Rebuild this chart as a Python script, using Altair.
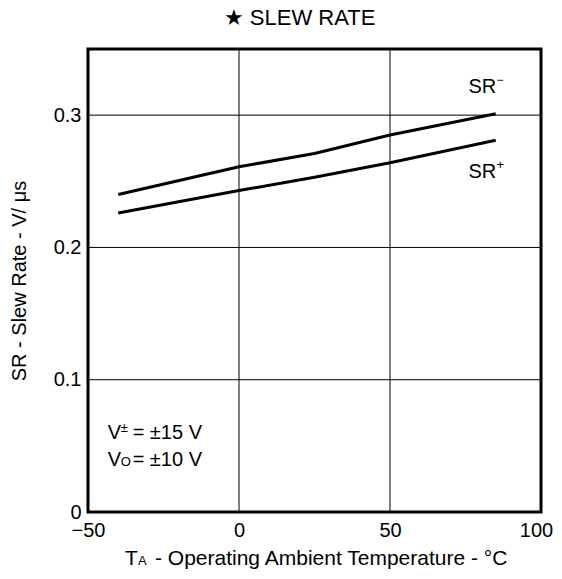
import altair as alt
import pandas as pd

# Data
temps_minus = [-40, 0, 25, 50, 85]
sr_minus = [0.240, 0.261, 0.271, 0.285, 0.301]
temps_plus = [-40, 0, 25, 50, 85]
sr_plus = [0.226, 0.243, 0.253, 0.264, 0.281]

x_ticks = [-50, 0, 50, 100]
y_ticks = [0, 0.1, 0.2, 0.3]
x_grid = [0, 50]
y_grid = [0.1, 0.2, 0.3]

FONT = "Liberation Sans"
FS = 20

df = pd.concat([
    pd.DataFrame({"T": temps_minus, "SR": sr_minus, "series": "SR-"}),
    pd.DataFrame({"T": temps_plus, "SR": sr_plus, "series": "SR+"}),
])

xscale = alt.Scale(domain=[-50, 100], nice=False, zero=False)
yscale = alt.Scale(domain=[0, 0.35], nice=False)

xaxis = alt.Axis(values=x_ticks, grid=False, ticks=False, domain=False,
                 labelFont=FONT, labelFontSize=FS, labelColor="black", labelPadding=8,
                 labelExpr="replace(datum.label, '-', '\u2212')",
                 labelOffset={"condition": {"test": "datum.value == 100", "value": -5}, "value": 0},
                 title=None, labelFlush=False, labelOverlap=False)
yaxis = alt.Axis(values=y_ticks, grid=False, ticks=False, domain=False,
                 labelFont=FONT, labelFontSize=FS, labelColor="black", labelPadding=7,
                 labelExpr="datum.value == 0 ? '0' : format(datum.value, '.1f')",
                 title="SR - Slew Rate - V/ \u03bcs", titleFont=FONT, titleFontSize=FS,
                 titleFontWeight="normal", titleColor="black", titlePadding=24)

X = lambda f: alt.X(f, type="quantitative", scale=xscale, axis=xaxis)
Y = lambda f: alt.Y(f, type="quantitative", scale=yscale, axis=yaxis)

vgrid = alt.Chart(pd.DataFrame({"g": x_grid})).mark_rule(color="black", strokeWidth=1).encode(
    x=X("g"))
hgrid = alt.Chart(pd.DataFrame({"g": y_grid})).mark_rule(color="black", strokeWidth=1).encode(
    y=Y("g"))

lines = alt.Chart(df).mark_line(color="black", strokeWidth=3).encode(
    x=X("T"), y=Y("SR"), detail="series:N")

# annotations: text pieces (text, x, y, size, dx, dy)
ann = pd.DataFrame([
    {"t": "SR", "x": 76, "y": 0.321, "s": FS, "dx": 0, "dy": 0},
    {"t": "\u2212", "x": 76, "y": 0.321, "s": 12, "dx": 28, "dy": -7},
    {"t": "SR", "x": 76, "y": 0.257, "s": FS, "dx": 0, "dy": 0},
    {"t": "+", "x": 76, "y": 0.257, "s": 13, "dx": 28, "dy": -7},
    {"t": "V", "x": -43.5, "y": 0.060, "s": FS, "dx": 0, "dy": 0},
    {"t": "\u00b1", "x": -43.5, "y": 0.060, "s": 13, "dx": 13, "dy": -5},
    {"t": "= \u00b115 V", "x": -43.5, "y": 0.060, "s": FS, "dx": 25, "dy": 0},
    {"t": "V", "x": -43.5, "y": 0.039, "s": FS, "dx": 0, "dy": 0},
    {"t": "O", "x": -43.5, "y": 0.039, "s": 13, "dx": 13, "dy": 2},
    {"t": "= \u00b110 V", "x": -43.5, "y": 0.039, "s": FS, "dx": 25, "dy": 0},
])

texts = []
for _, r in ann.iterrows():
    texts.append(
        alt.Chart(pd.DataFrame([r])).mark_text(
            align="left", baseline="middle", font=FONT, fontSize=int(r["s"]),
            dx=int(r["dx"]), dy=int(r["dy"]), color="black").encode(
            x=X("x"), y=Y("y"), text="t:N"))

# x-axis title with small subscript A
xt = pd.DataFrame([
    {"t": "T", "s": 21, "px": 37, "dy": 0},
    {"t": "A", "s": 13, "px": 50, "dy": 2},
    {"t": "- Operating Ambient Temperature -    \u00b0C", "s": 21, "px": 67, "dy": 0},
])
xtitle = []
for _, r in xt.iterrows():
    xtitle.append(
        alt.Chart(pd.DataFrame([r])).mark_text(
            align="left", baseline="middle", font=FONT, fontSize=int(r["s"]),
            dy=int(r["dy"]), color="black").encode(
            x=alt.value(int(r["px"])), y=alt.value(510), text="t:N"))

chart = alt.layer(vgrid, hgrid, lines, *texts, *xtitle).properties(
    width=453, height=463,
    background="white",
    title=alt.TitleParams("\u2605  SLEW RATE", font=FONT, fontSize=22, fontWeight="normal",
                          color="black", anchor="middle", dx=-15, offset=19),
    autosize=alt.AutoSizeParams(type="none"),
    padding={"left": 80, "top": 41, "right": 13, "bottom": 60},
).configure_view(stroke="black", strokeWidth=3)

chart.save("out.html", embed_options={"renderer": "svg", "actions": False})
